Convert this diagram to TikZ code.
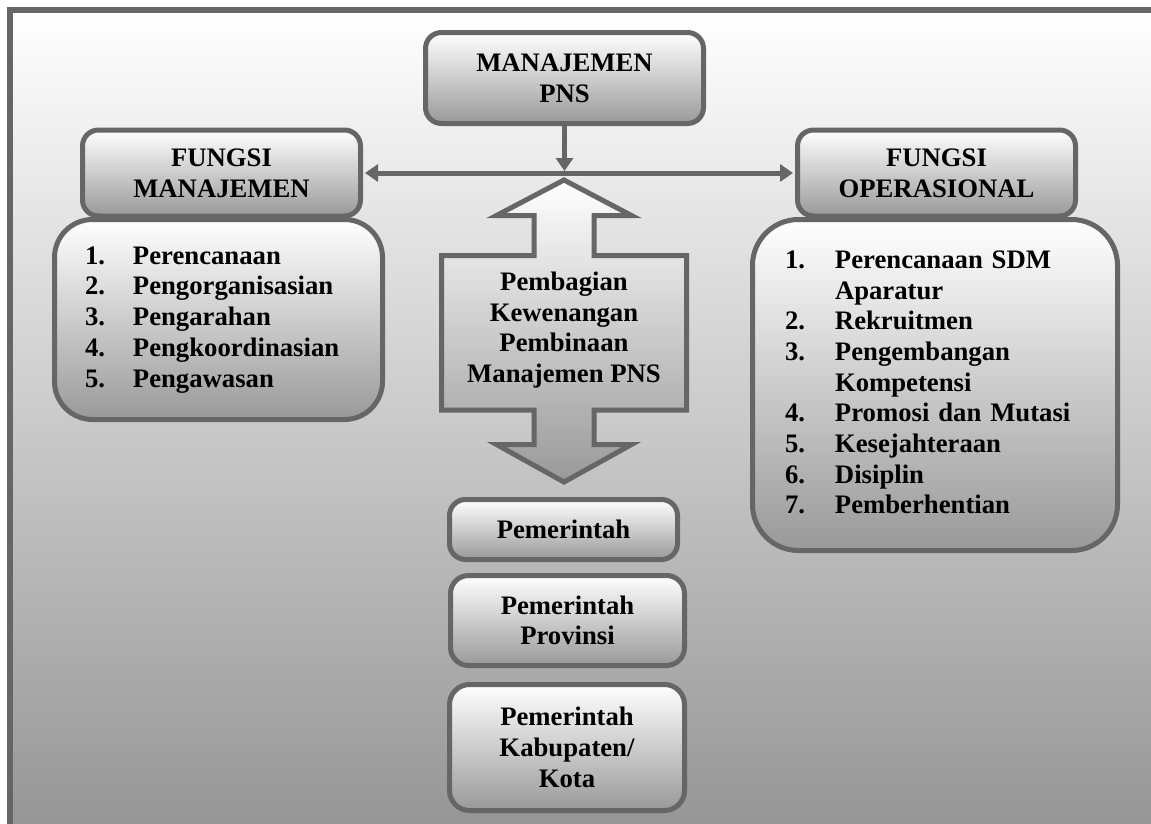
\documentclass[tikz,border=0pt]{standalone}
\usepackage{fontspec}
\setmainfont{Liberation Serif}
\usetikzlibrary{arrows.meta}
\definecolor{edge}{HTML}{666666}
\definecolor{shade}{HTML}{999999}
\begin{document}
\begin{tikzpicture}[x=1pt,y=-1pt,
  font=\fontsize{26.7}{30.7}\selectfont\bfseries,
  box/.style={draw=edge,line width=5pt,rounded corners=16pt,top color=white,bottom color=shade,inner sep=0pt,align=center},
  lst/.style={box,align=left},
  tip/.style={-{Triangle[length=13pt,width=17pt]}},
  link/.style={edge,line width=5pt}]
\useasboundingbox (0,0) rectangle (1151,823);
\fill[white] (0,0) rectangle (1151,823);
\draw[edge,line width=5.5pt,top color=white,bottom color=black!42] (10,10) rectangle (1170,840);

\node[box,minimum width=278,minimum height=91] (mpns) at (564.5,78) {MANAJEMEN\\PNS};
\node[box,minimum width=278,minimum height=86] (fman) at (221.5,173) {FUNGSI\\MANAJEMEN};
\node[box,minimum width=278,minimum height=86] (fops) at (936.5,173) {FUNGSI\\OPERASIONAL};

\node[lst,rounded corners=38pt,text width=267,inner xsep=30.5,minimum height=200] (lman) at (218.5,319.5)
  {\begin{tabular}{@{}p{48pt}@{}l@{}}
  1.&Perencanaan\\
  2.&Pengorganisasian\\
  3.&Pengarahan\\
  4.&Pengkoordinasian\\
  5.&Pengawasan
  \end{tabular}};
\node[lst,rounded corners=46pt,text width=300,inner xsep=32.5,minimum height=331] (lops) at (935,385)
  {\begin{tabular}{@{}p{50pt}@{}l@{}}
  1.&Perencanaan SDM\\
  &Aparatur\\
  2.&Rekruitmen\\
  3.&Pengembangan\\
  &Kompetensi\\
  4.&Promosi dan Mutasi\\
  5.&Kesejahteraan\\
  6.&Disiplin\\
  7.&Pemberhentian
  \end{tabular}};

% panah blok dua arah
\draw[link,top color=white,bottom color=shade] (564,180) -- (631.5,215.5) -- (594,215.5) -- (594,255.5)
  -- (686.5,255.5) -- (686.5,410) -- (594,410) -- (594,444.5) -- (631.5,444.5) -- (564,482)
  -- (496.5,444.5) -- (534,444.5) -- (534,410) -- (441.5,410) -- (441.5,255.5) -- (534,255.5)
  -- (534,215.5) -- (496.5,215.5) -- cycle;
\node[align=center] (bagi) at (564,330) {Pembagian\\Kewenangan\\Pembinaan\\Manajemen PNS};

\coordinate (jn) at (564.5,171);
\draw[link,tip] (mpns) -- (jn);
\draw[link,{Triangle[length=13pt,width=17pt]}-{Triangle[length=13pt,width=17pt]},shorten <=2pt,shorten >=2pt] (fman) -- (fops);

\node[box,minimum width=228,minimum height=60] (pusat) at (563.5,529.5) {Pemerintah};
\node[box,rounded corners=18pt,minimum width=234,minimum height=90] (prov) at (567.5,620.5) {Pemerintah\\Provinsi};
\node[box,rounded corners=20pt,minimum width=235,minimum height=126] (kab) at (567,747.5) {Pemerintah\\Kabupaten/\\Kota};
\end{tikzpicture}
\end{document}
